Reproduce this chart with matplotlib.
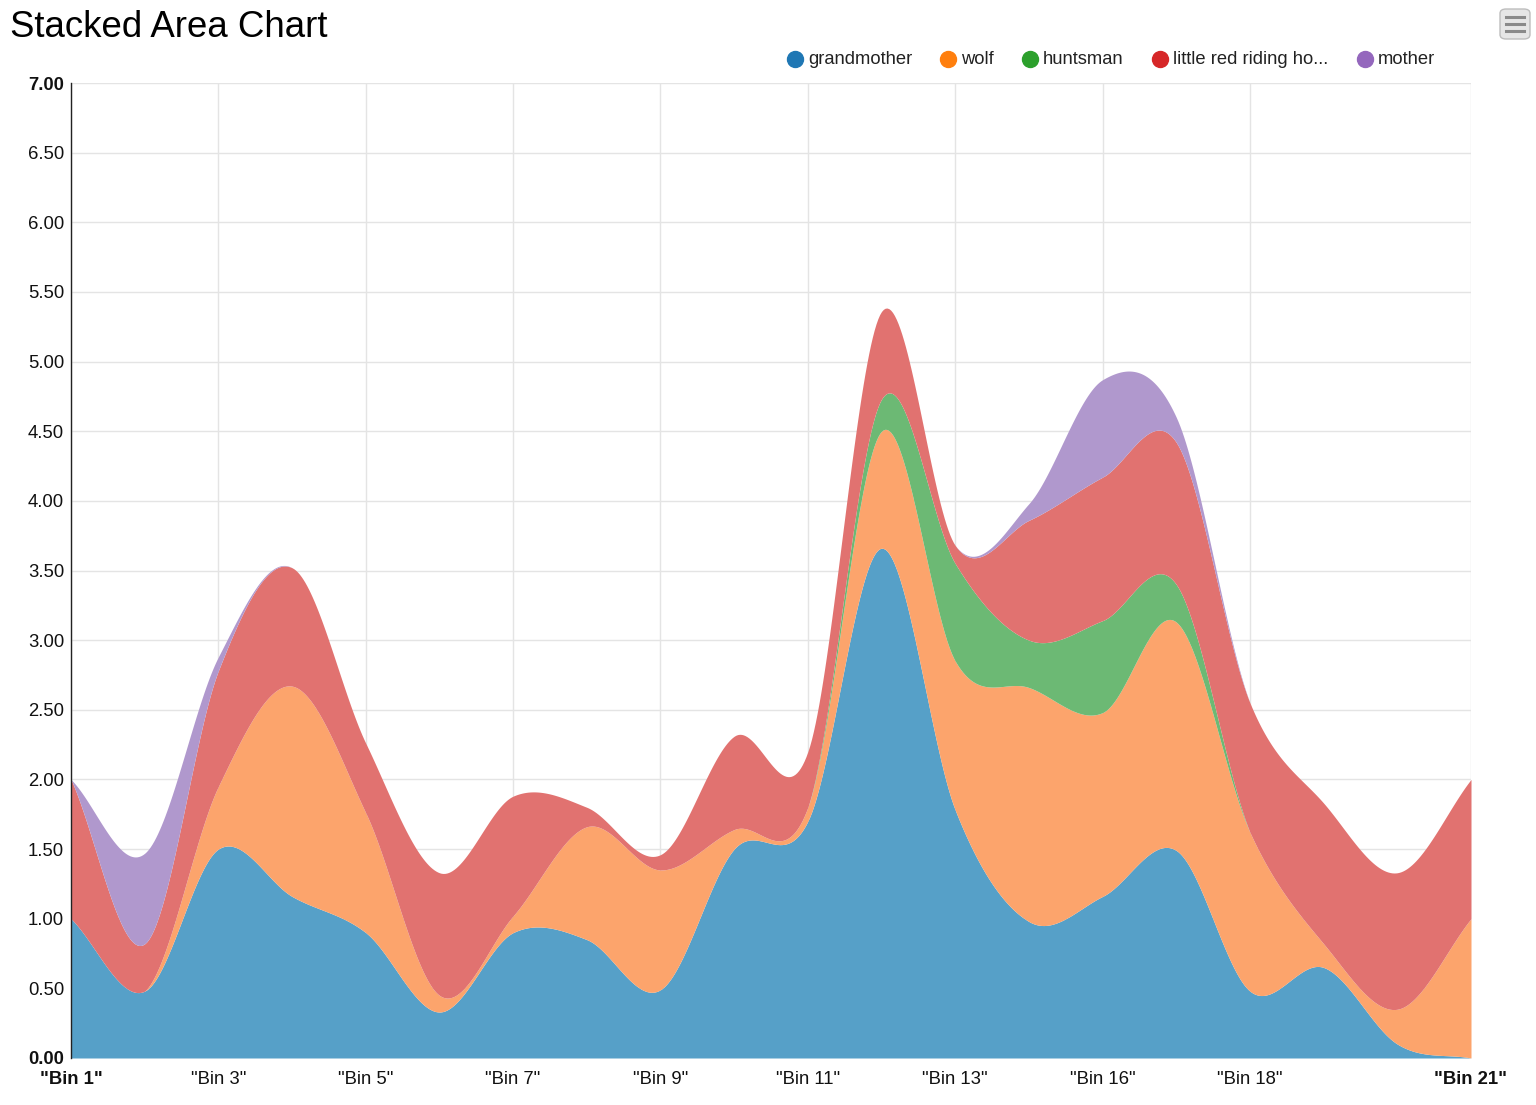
# Stacked area chart - little red riding hood characters per bin
import numpy as np
import matplotlib.pyplot as plt
from matplotlib.patches import FancyBboxPatch

plt.rcParams['font.family'] = ['Liberation Sans', 'DejaVu Sans']

# data
bins = ["Bin 1", "Bin 2", "Bin 3", "Bin 4", "Bin 5", "Bin 6", "Bin 7", "Bin 8",
        "Bin 9", "Bin 10", "Bin 11", "Bin 12", "Bin 13", "Bin 14", "Bin 16",
        "Bin 17", "Bin 18", "Bin 19", "Bin 20", "Bin 21"]
names = ["grandmother", "wolf", "huntsman", "little red riding hood", "mother"]
grandmother = [1.00, 0.48, 1.50, 1.16, 0.90, 0.33, 0.90, 0.85, 0.49, 1.50,
               1.70, 3.66, 1.78, 0.98, 1.16, 1.49, 0.48, 0.65, 0.10, 0.00]
wolf = [0.00, 0.00, 0.45, 1.51, 0.86, 0.12, 0.12, 0.81, 0.86, 0.14,
        0.10, 0.84, 1.07, 1.68, 1.32, 1.64, 1.14, 0.17, 0.25, 1.00]
huntsman = [0.00, 0.00, 0.00, 0.00, 0.00, 0.00, 0.00, 0.00, 0.00, 0.00,
            0.00, 0.23, 0.70, 0.34, 0.66, 0.27, 0.00, 0.00, 0.00, 0.00]
red_riding_hood = [1.00, 0.34, 0.83, 0.85, 0.50, 0.88, 0.86, 0.14, 0.11, 0.67,
                   0.40, 0.63, 0.13, 0.86, 1.03, 1.02, 0.93, 1.01, 0.98, 1.00]
mother = [0.00, 0.65, 0.10, 0.00, 0.00, 0.00, 0.00, 0.00, 0.00, 0.00,
          0.00, 0.00, 0.00, 0.12, 0.70, 0.18, 0.00, 0.00, 0.00, 0.00]
legend_labels = ["grandmother", "wolf", "huntsman", "little red riding ho...", "mother"]
xtick_idx = [0, 2, 4, 6, 8, 10, 12, 14, 16, 19]
colors = ["#1f77b4", "#ff7f0e", "#2ca02c", "#d62728", "#9467bd"]
fills = ["#56a0c8", "#fca46c", "#6cb974", "#e17270", "#b098cd"]

W, H = 1536, 1105


def fx(px):
    return px / W


def fy(py):
    return 1 - py / H


# smooth curve through the points (catmull-rom)
def smooth(y, steps=40):
    y = np.asarray(y, float)
    n = len(y)
    m = np.empty(n)
    m[1:-1] = (y[2:] - y[:-2]) / 2
    m[0] = y[1] - y[0]
    m[-1] = y[-1] - y[-2]
    t = np.linspace(0, 1, steps, endpoint=False)
    h00 = 2*t**3 - 3*t**2 + 1
    h10 = t**3 - 2*t**2 + t
    h01 = -2*t**3 + 3*t**2
    h11 = t**3 - t**2
    xs, ys = [], []
    for i in range(n - 1):
        xs.append(i + t)
        ys.append(h00*y[i] + h10*m[i] + h01*y[i+1] + h11*m[i+1])
    xs.append([n - 1])
    ys.append([y[-1]])
    return np.concatenate(xs), np.concatenate(ys)


fig = plt.figure(figsize=(W/100, H/100), dpi=100)
ax = fig.add_axes([fx(71), fy(1058), fx(1471) - fx(71), fy(83) - fy(1058)])

layers = np.array([grandmother, wolf, huntsman, red_riding_hood, mother])
cum = np.vstack([np.zeros(len(bins)), np.cumsum(layers, axis=0)])
edges = []
for row in cum:
    xs, ys = smooth(row)
    edges.append(ys)
edges = np.maximum.accumulate(np.clip(np.array(edges), 0, None), axis=0)

for k in range(len(names)):
    ax.fill_between(xs, edges[k], edges[k + 1], color=fills[k], lw=0, zorder=2)

ax.set_xlim(0, len(bins) - 1)
ax.set_ylim(0, 7)
yt = np.arange(0, 7.01, 0.5)
ax.set_yticks(yt)
ax.set_yticklabels(["%.2f" % v for v in yt])
ax.set_xticks(xtick_idx)
ax.set_xticklabels(['"%s"' % bins[i] for i in xtick_idx])
for labs in (ax.get_yticklabels(), ax.get_xticklabels()):
    labs[0].set_fontweight('bold')
    labs[-1].set_fontweight('bold')

ax.tick_params(axis='y', length=0, pad=5, labelsize=13.3, labelcolor='#111')
ax.tick_params(axis='x', length=0, pad=9, labelsize=13.3, labelcolor='#111')
ax.grid(True, color='#e4e4e4', lw=1)
ax.set_axisbelow(True)
for s in ['top', 'right', 'bottom']:
    ax.spines[s].set_visible(False)
ax.spines['left'].set_color('#222')
ax.spines['left'].set_linewidth(1)
ax.spines['left'].set_zorder(3)

# title
fig.text(fx(10), fy(37), "Stacked Area Chart", fontsize=26.4, color='#000', va='baseline', ha='left')

# legend
leg_x = [795, 948, 1030, 1160, 1365]
for k in range(len(names)):
    fig.lines.append(plt.Line2D([fx(leg_x[k])], [fy(59)], marker='o', markersize=11.5,
                                color=colors[k], transform=fig.transFigure))
    fig.text(fx(leg_x[k] + 13), fy(59), legend_labels[k], fontsize=13.2,
             va='center', ha='left', color='#222')

# menu button top right
box = FancyBboxPatch((fx(1500), fy(39)), fx(30), 30 / H, boxstyle="round,pad=0,rounding_size=0.004",
                     transform=fig.transFigure, facecolor='#e6e6e6', edgecolor='#bdbdbd', lw=1)
fig.patches.append(box)
for py in [17, 24, 31]:
    fig.lines.append(plt.Line2D([fx(1506), fx(1524)], [fy(py), fy(py)], color='#8a8a8a',
                                lw=2.2, transform=fig.transFigure))

fig.savefig("out.png", dpi=100)
